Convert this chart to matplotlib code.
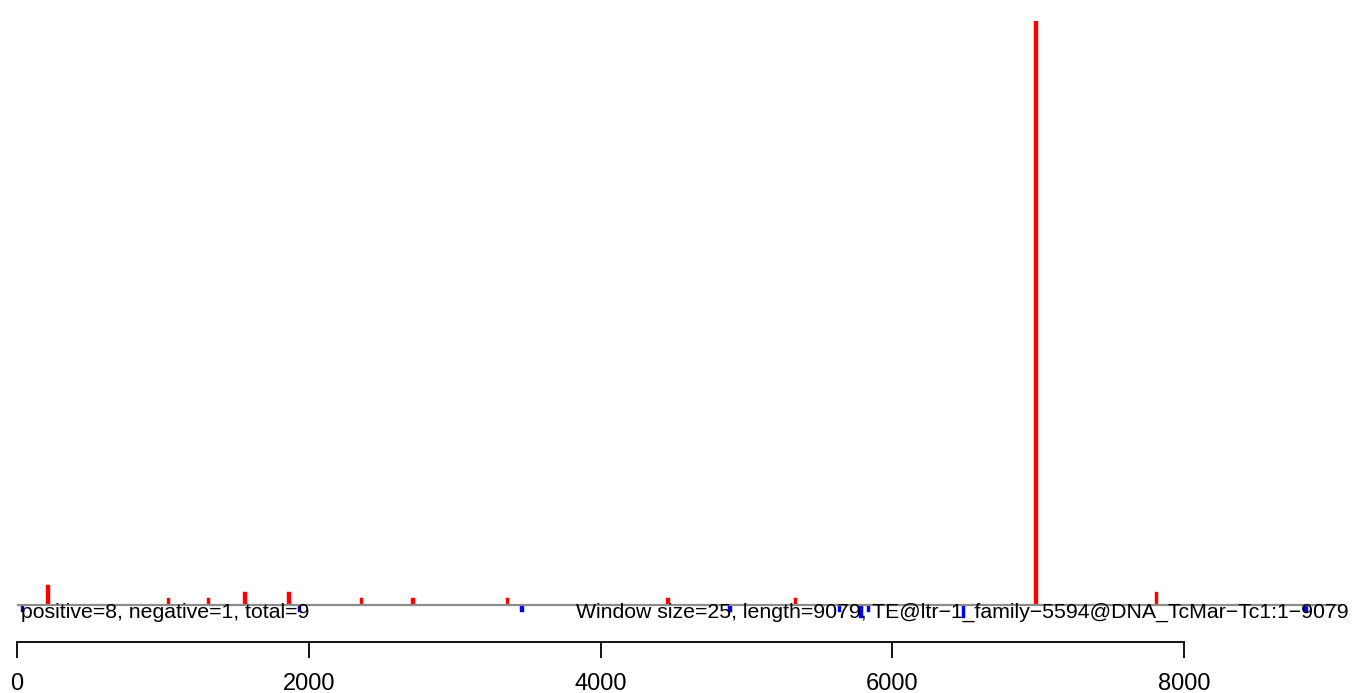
import matplotlib
matplotlib.use("Agg")
import matplotlib.pyplot as plt

plt.rcParams['font.family'] = ['Liberation Sans', 'DejaVu Sans']

# window start positions and signed counts (window size 25)
pos_start = [200, 1025, 1300, 1550, 1850, 2350, 2700, 3350, 4450, 5325, 6975, 7800]
pos_count = [3, 1, 1, 2, 2, 1, 1, 1, 1, 1, 88, 2]
neg_start = [25, 1925, 3450, 4875, 5625, 5775, 5825, 6475, 8825]
neg_count = [-1, -1, -1, -1, -1, -2, -1, -2, -1]

window = 25
seq_len = 9079
xticks = [0, 2000, 4000, 6000, 8000]
left_text = "positive=8, negative=1, total=9"
right_text = "Window size=25, length=9079, TE@ltr\u22121_family\u22125594@DNA_TcMar\u2212Tc1:1\u22129079"

W, H = 1353, 693
fig = plt.figure(figsize=(W / 100, H / 100), dpi=100)
ax = fig.add_axes([17 / W, (H - 642) / H, (1350 - 17) / W, (642 - 21) / H])

ax.bar(pos_start, pos_count, width=window, align='edge', color='#FF0000',
       edgecolor='#FF0000', linewidth=0.3)
ax.bar(neg_start, neg_count, width=window, align='edge', color='#0000FF',
       edgecolor='#0000FF', linewidth=0.3)
ax.plot([0, seq_len], [0, 0], color='#8c8c8c', linewidth=1.6, zorder=3)

ax.text(25, -1.1, left_text, ha='left', va='center', fontsize=15.3, zorder=4)
ax.text(9127, -1.1, right_text, ha='right', va='center', fontsize=15.3, zorder=4)

ax.set_xlim(0, 1333 / 0.145875)
ax.set_ylim(-(642 - 605) / 6.636, 88)

for s in ['top', 'right', 'left']:
    ax.spines[s].set_visible(False)
ax.spines['bottom'].set_bounds(0, 8000)
ax.spines['bottom'].set_linewidth(1.3)
ax.set_yticks([])
ax.set_xticks(xticks)
ax.set_xticklabels([str(t) for t in xticks])
ax.tick_params(axis='x', length=11.5, width=1.3, pad=11, labelsize=17)

fig.savefig("out.png", dpi=100)
